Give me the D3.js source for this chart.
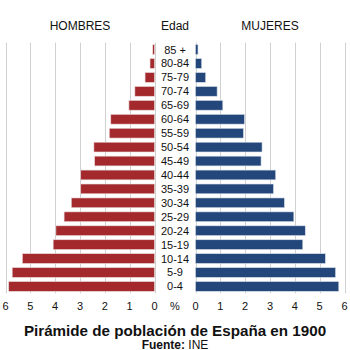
<!DOCTYPE html>
<html><head><meta charset="utf-8">
<script src="https://cdn.jsdelivr.net/npm/d3@7"></script>
<style>
html,body{margin:0;padding:0;background:#fff;}
text{font-family:"Liberation Sans",Arial,sans-serif;fill:#111;}
</style></head>
<body><svg id="c" width="350" height="350"></svg>
<script>
const ages = ["85 +","80-84","75-79","70-74","65-69","60-64","55-59","50-54","45-49","40-44","35-39","30-34","25-29","20-24","15-19","10-14","5-9","0-4"];
const men = [0.07,0.18,0.38,0.79,1.03,1.76,1.82,2.44,2.41,2.97,2.97,3.35,3.64,3.97,4.08,5.32,5.73,5.87];
const women = [0.10,0.25,0.41,0.87,1.10,1.97,1.93,2.68,2.64,3.23,3.14,3.58,3.96,4.42,4.32,5.23,5.64,5.77];
const ticks = [0,1,2,3,4,5,6];
const headers = ["HOMBRES","Edad","MUJERES"];
const title = "Pirámide de población de España en 1900";

const svg = d3.select("#c");
const xL = d3.scaleLinear().domain([0,6]).range([154.5,5.5]);
const xR = d3.scaleLinear().domain([0,6]).range([195.5,344.5]);
const y = d3.scaleBand().domain(ages).range([42.6,293.4]).paddingInner(0.3).paddingOuter(0.15);
const yTop = 42.6, yBot = 293.4;

// gridlines
[xL,xR].forEach(x=>{
  svg.append("g").selectAll("line").data(ticks).join("line")
    .attr("x1",d=>Math.round(x(d))+0.5).attr("x2",d=>Math.round(x(d))+0.5)
    .attr("y1",yTop).attr("y2",yBot)
    .attr("stroke","#d0d0d0").attr("stroke-width",1);
});

// bars
svg.append("g").selectAll("rect").data(ages).join("rect")
  .attr("x",(d,i)=>xL(men[i])).attr("width",(d,i)=>xL(0)-xL(men[i]))
  .attr("y",d=>y(d)).attr("height",y.bandwidth())
  .attr("fill","#a3292d").attr("stroke","#e8d6d6").attr("stroke-width",0.6);
svg.append("g").selectAll("rect").data(ages).join("rect")
  .attr("x",xR(0)).attr("width",(d,i)=>xR(women[i])-xR(0))
  .attr("y",d=>y(d)).attr("height",y.bandwidth())
  .attr("fill","#23467b").attr("stroke","#d6dce6").attr("stroke-width",0.6);

// age labels
svg.append("g").selectAll("text").data(ages).join("text")
  .attr("x",175).attr("y",d=>y(d)+y.bandwidth()/2).attr("dy","0.36em")
  .attr("text-anchor","middle").attr("font-size",11).text(d=>d);

// axis tick labels
[xL,xR].forEach(x=>{
  svg.append("g").selectAll("text").data(ticks).join("text")
    .attr("x",d=>x(d)).attr("y",309.5).attr("text-anchor","middle")
    .attr("font-size",11).text(d=>d);
});
svg.append("text").attr("x",175).attr("y",309.5).attr("text-anchor","middle").attr("font-size",11).text("%");

// headers
svg.append("g").selectAll("text").data(headers).join("text")
  .attr("x",(d,i)=>[ (xL(0)+xL(6))/2, 175, (xR(0)+xR(6))/2 ][i])
  .attr("y",29.5).attr("text-anchor","middle").attr("font-size",12).text(d=>d);

// title
svg.append("text").attr("x",175).attr("y",335.5).attr("text-anchor","middle")
  .attr("font-size",15.2).attr("font-weight","bold").text(title);
const f = svg.append("text").attr("x",175).attr("y",348.5).attr("text-anchor","middle").attr("font-size",12);
f.append("tspan").attr("font-weight","bold").text("Fuente: ");
f.append("tspan").text("INE");
</script></body></html>
